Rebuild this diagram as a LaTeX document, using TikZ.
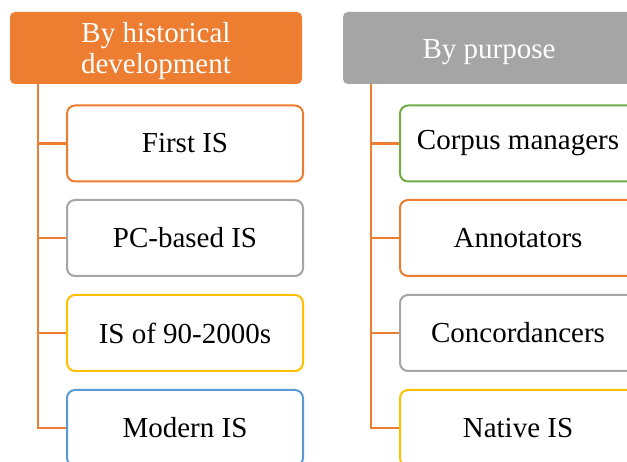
\documentclass[tikz,border=0pt]{standalone}
\usepackage{fontspec}
\setmainfont{Liberation Serif}
\definecolor{cOrange}{HTML}{ED7D31}
\definecolor{cGray}{HTML}{A5A5A5}
\definecolor{cYellow}{HTML}{FFC000}
\definecolor{cBlue}{HTML}{5B9BD5}
\definecolor{cGreen}{HTML}{70AD47}
\begin{document}
\begin{tikzpicture}[x=1pt,y=-1pt,
  header/.style={rounded corners=5pt, minimum width=292pt, minimum height=72pt, inner sep=0pt,
    text=white, align=center, font=\fontsize{29}{31}\selectfont},
  child/.style={draw=#1, line width=2pt, rounded corners=8pt, fill=white, minimum width=236pt,
    minimum height=76pt, inner sep=0pt, font=\fontsize{29}{31}\selectfont},
  branch/.style={draw=cOrange, line width=2.2pt}]
\useasboundingbox (0,0) rectangle (627,462);
\clip (0,0) rectangle (627,462);
% left column
\node[header, fill=cOrange] (h1) at (156,48) {\raisebox{-9pt}[0pt][0pt]{\parbox{290pt}{\centering By historical\\development}}};
\node[child=cOrange] (a1) at (185,143.5) {First IS};
\node[child=cGray] (a2) at (185,238) {PC-based IS};
\node[child=cYellow] (a3) at (185,333) {IS of 90-2000s};
\node[child=cBlue] (a4) at (185,428) {Modern IS};
\coordinate (t1) at (38,84);
\path[branch] (t1) |- (a4.west);
\path[branch] (t1 |- a1.west) -- (a1.west);
\path[branch] (t1 |- a2.west) -- (a2.west);
\path[branch] (t1 |- a3.west) -- (a3.west);
% right column
\node[header, fill=cGray] (h2) at (489,48) {\raisebox{-11pt}[0pt][0pt]{By purpose}};
\node[child=cGreen] (b1) at (518,143.5) {Corpus managers};
\node[child=cOrange] (b2) at (518,238) {Annotators};
\node[child=cGray] (b3) at (518,333) {Concordancers};
\node[child=cYellow] (b4) at (518,428) {Native IS};
\coordinate (t2) at (371,84);
\path[branch] (t2) |- (b4.west);
\path[branch] (t2 |- b1.west) -- (b1.west);
\path[branch] (t2 |- b2.west) -- (b2.west);
\path[branch] (t2 |- b3.west) -- (b3.west);
\end{tikzpicture}
\end{document}
